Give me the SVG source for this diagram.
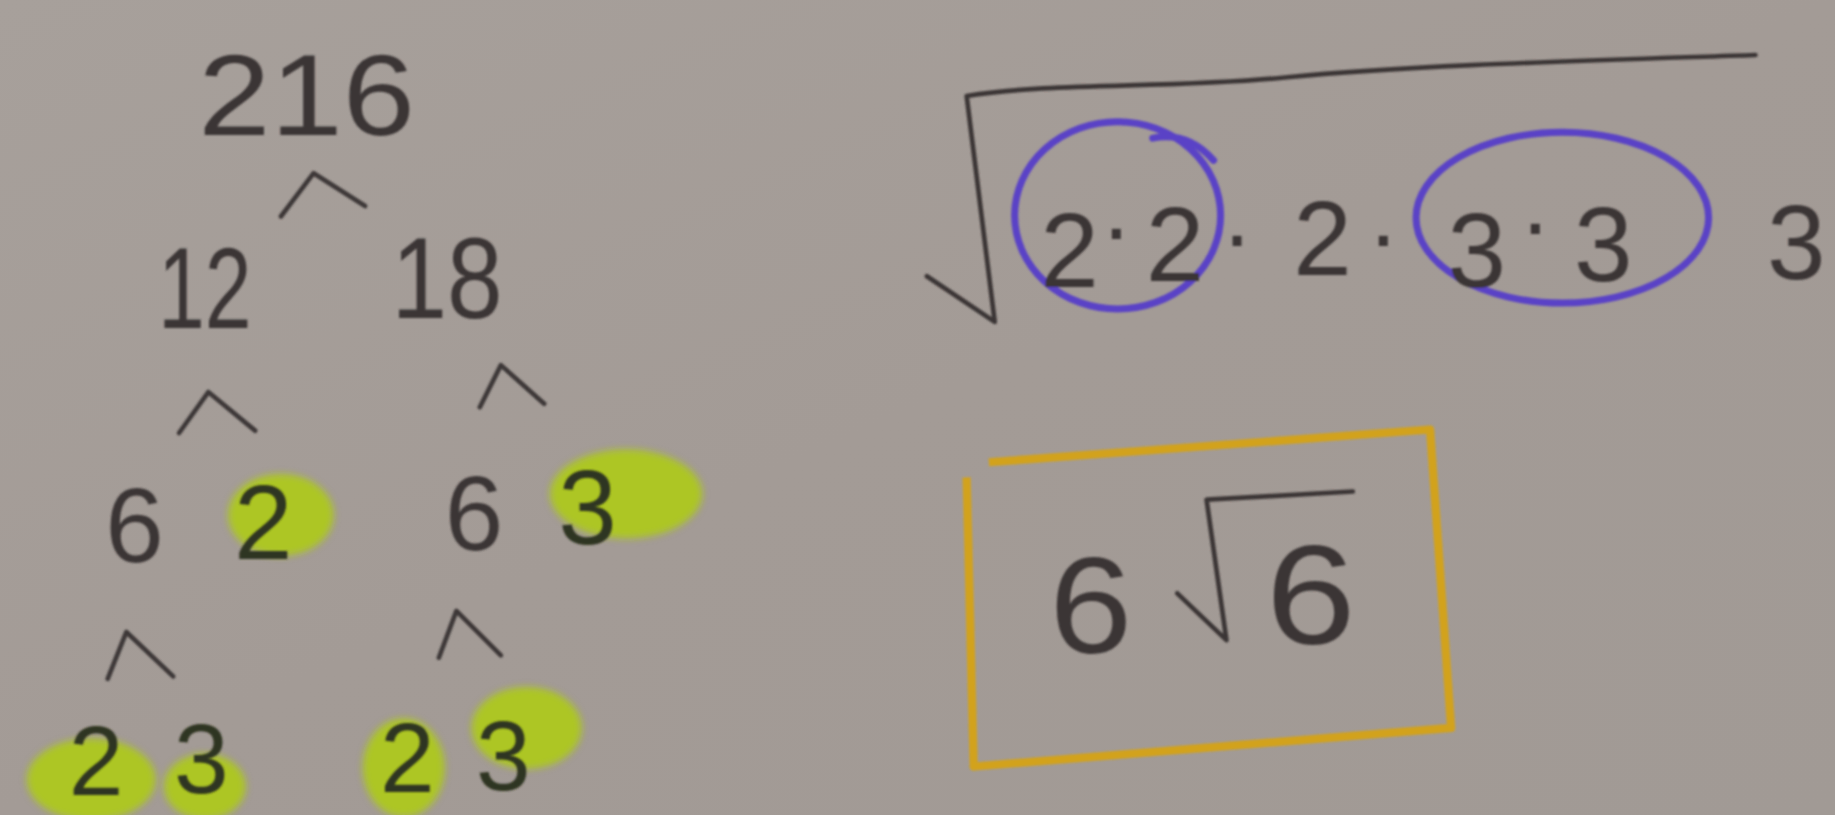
<svg xmlns="http://www.w3.org/2000/svg" width="1835" height="815" viewBox="0 0 1835 815">
<defs>
<linearGradient id="bg" x1="0" y1="0" x2="1" y2="1">
<stop offset="0" stop-color="#a7a09b"/>
<stop offset="0.5" stop-color="#a39b96"/>
<stop offset="1" stop-color="#a19a95"/>
</linearGradient>
<filter id="soft" x="-30%" y="-30%" width="160%" height="160%"><feGaussianBlur stdDeviation="3"/></filter>
<filter id="ink" x="-10%" y="-10%" width="120%" height="120%"><feGaussianBlur stdDeviation="0.8"/></filter>
<style>
.d{font-family:"Liberation Sans","DejaVu Sans",sans-serif;fill:#3b3636;text-anchor:middle}
.g{fill:#2f3420}
.hl{fill:#aecb18;opacity:0.9}
.car{fill:none;stroke:#3d3838;stroke-width:4;stroke-linecap:round;stroke-linejoin:round}
.pen{fill:none;stroke:#3b3636;stroke-width:4;stroke-linecap:round;stroke-linejoin:round}
.blue{fill:none;stroke:#5a42c6;stroke-width:6;stroke-linecap:round}
.box{fill:none;stroke:#d2a21e;stroke-width:7;stroke-linejoin:round}
</style>
</defs>
<rect width="1835" height="815" fill="url(#bg)"/>
<g transform="scale(1.17028)">
<g id="connectors" filter="url(#ink)">
<polyline class="car" points="240,185 268,148 312,176"/>
<polyline class="car" points="153,370 178,335 218,368"/>
<polyline class="car" points="410,348 428,312 465,345"/>
<polyline class="car" points="92,580 108,540 148,578"/>
<polyline class="car" points="375,562 390,522 428,560"/>
</g>
<g id="highlights" filter="url(#soft)">
<ellipse class="hl" cx="240" cy="440" rx="45" ry="35"/>
<ellipse class="hl" cx="535" cy="422" rx="65" ry="38"/>
<ellipse class="hl" cx="78" cy="666" rx="55" ry="35"/>
<ellipse class="hl" cx="175" cy="672" rx="35" ry="28"/>
<ellipse class="hl" cx="345" cy="656" rx="35" ry="42"/>
<ellipse class="hl" cx="450" cy="622" rx="47" ry="35"/>
</g>
<g id="n216" filter="url(#ink)"><text class="d" x="262" y="115" font-size="98" textLength="185" lengthAdjust="spacingAndGlyphs">216</text></g>
<g id="n12" filter="url(#ink)"><text class="d" x="175" y="280" font-size="98" textLength="80" lengthAdjust="spacingAndGlyphs">12</text></g>
<g id="n18" filter="url(#ink)"><text class="d" x="382" y="272" font-size="98" textLength="95" lengthAdjust="spacingAndGlyphs">18</text></g>
<g id="n6a" filter="url(#ink)"><text class="d" x="115" y="480" font-size="90">6</text></g>
<g id="n2a" filter="url(#ink)"><text class="d g" x="225" y="478" font-size="90">2</text></g>
<g id="n6b" filter="url(#ink)"><text class="d" x="405" y="470" font-size="90">6</text></g>
<g id="n3a" filter="url(#ink)"><text class="d g" x="502" y="465" font-size="90">3</text></g>
<g id="n2b" filter="url(#ink)"><text class="d g" x="82" y="679" font-size="84">2</text></g>
<g id="n3b" filter="url(#ink)"><text class="d g" x="172" y="678" font-size="84">3</text></g>
<g id="n2c" filter="url(#ink)"><text class="d g" x="348" y="677" font-size="84">2</text></g>
<g id="n3c" filter="url(#ink)"><text class="d g" x="430" y="675" font-size="84">3</text></g>
<g id="radical" filter="url(#ink)">
<path class="pen" d="M792,236 L850,275 L826,82 C900,70 1000,76 1100,66 C1200,56 1350,52 1500,47"/>
<ellipse class="blue" cx="955" cy="184" rx="88" ry="80"/>
<path class="blue" d="M985,118 Q1015,112 1037,137"/>
<ellipse class="blue" cx="1335" cy="186" rx="125" ry="73"/>
<text class="d" x="914" y="245" font-size="90">2</text>
<text class="d" x="954" y="222" font-size="80">·</text>
<text class="d" x="1004" y="240" font-size="90">2</text>
<text class="d" x="1057" y="228" font-size="80">·</text>
<text class="d" x="1130" y="235" font-size="90">2</text>
<text class="d" x="1182" y="228" font-size="80">·</text>
<text class="d" x="1262" y="245" font-size="90">3</text>
<text class="d" x="1312" y="218" font-size="80">·</text>
<text class="d" x="1370" y="240" font-size="90">3</text>
<text class="d" x="1535" y="238" font-size="90">3</text>
</g>
<g id="answer" filter="url(#ink)">
<path class="box" d="M845,395 L1222,367 L1240,622 L832,655 L826,408"/>
<text class="d" x="932" y="558" font-size="118" textLength="71" lengthAdjust="spacingAndGlyphs">6</text>
<path class="pen" d="M1006,507 L1048,547 L1031,427 L1156,420"/>
<text class="d" x="1120" y="550" font-size="120" textLength="77" lengthAdjust="spacingAndGlyphs">6</text>
</g>
</g>
</svg>
